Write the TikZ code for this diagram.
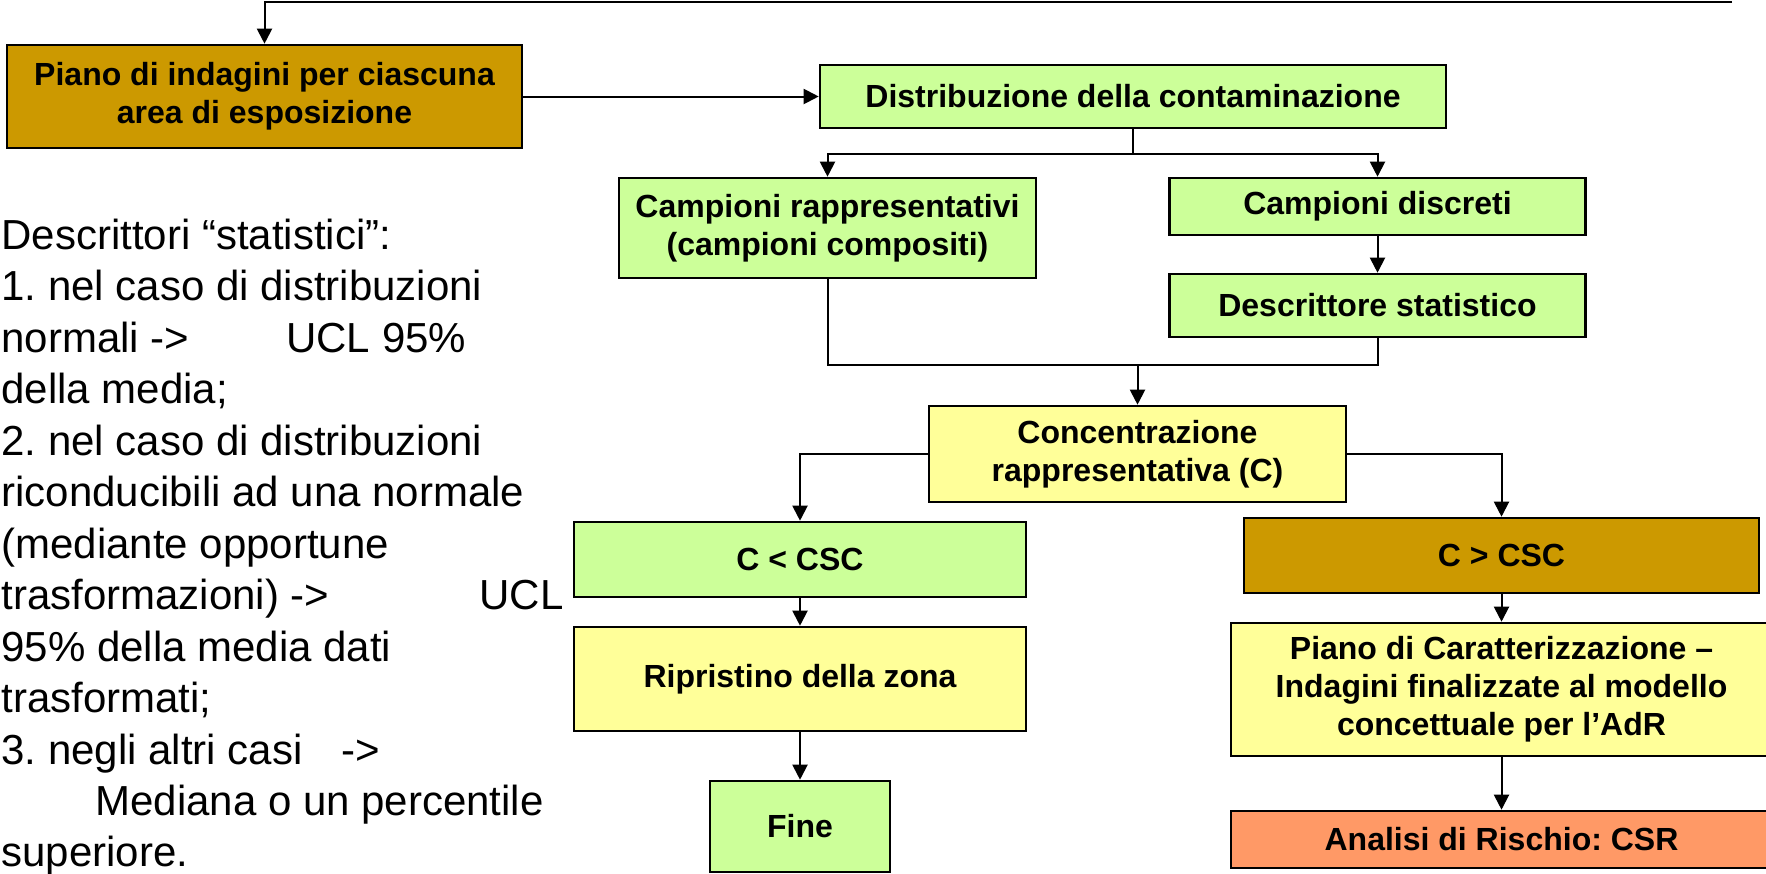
\documentclass[tikz,border=0pt]{standalone}
\usepackage{fontspec}
\setmainfont{Liberation Sans}
\usepackage{tikz}
\usetikzlibrary{arrows.meta}
\definecolor{oro}{RGB}{204,153,0}
\definecolor{verdino}{RGB}{204,255,153}
\definecolor{giallino}{RGB}{255,255,153}
\definecolor{salmone}{RGB}{255,153,102}
\frenchspacing

\begin{document}
\begin{tikzpicture} [x=0.5pt, y=-0.5pt,
	box/.style = {draw, line width=1.3pt, align=center, inner sep=0pt,
		font=\bfseries\fontsize{16}{19}\selectfont},
	boxverde/.style = {box, fill=verdino},
	boxgiallo/.style = {box, fill=giallino},
	boxoro/.style = {box, fill=oro},
	boxrosa/.style = {box, fill=salmone},
	freccia/.style = {line width=1pt, -{Triangle[length=7.5pt, width=7.5pt]}},
	linea/.style = {line width=1pt},
	riga/.style = {anchor=base west, inner sep=0pt, font=\fontsize{21}{25.75}\selectfont}]
	\useasboundingbox (0,0) rectangle (1766,873);
	% descrittori statistici (testo a sinistra)
	\node[riga] (riga1) at (1,249) {Descrittori “statistici”:};
	\node[riga] (riga2) at (1,300.5) {1. nel caso di distribuzioni};
	\node[riga] (riga3) at (1,352) {\makebox[142.5pt][l]{normali ->}UCL 95\%};
	\node[riga] (riga4) at (1,403.5) {della media;};
	\node[riga] (riga5) at (1,455) {2. nel caso di distribuzioni};
	\node[riga] (riga6) at (1,506.5) {riconducibili ad una normale};
	\node[riga] (riga7) at (1,558) {(mediante opportune};
	\node[riga] (riga8) at (1,609.5) {\makebox[239pt][l]{trasformazioni) ->}UCL};
	\node[riga] (riga9) at (1,661) {95\% della media dati};
	\node[riga] (riga10) at (1,712.5) {trasformati;};
	\node[riga] (riga11) at (1,764) {\makebox[170pt][l]{3. negli altri casi}->};
	\node[riga] (riga12) at (1,815.5) {\hspace*{47pt}Mediana o un percentile};
	\node[riga] (riga13) at (1,866) {superiore.};
	% blocchi
	\node[boxoro, minimum width=257.5pt, minimum height=51.5pt] (piano) at (264.5,96.5) {Piano di indagini per ciascuna\\area di esposizione};
	\node[boxverde, minimum width=313pt, minimum height=31.5pt] (distr) at (1133,96.5) {Distribuzione della contaminazione};
	\node[boxverde, minimum width=208.5pt, minimum height=50pt] (rappr) at (827.5,228) {Campioni rappresentativi\\(campioni compositi)};
	\node[boxverde, minimum width=208pt, minimum height=28.5pt] (discr) at (1377.5,206.5) {Campioni discreti};
	\node[boxverde, minimum width=208pt, minimum height=31.5pt] (descr) at (1377.5,305.5) {Descrittore statistico};
	\node[boxgiallo, minimum width=208.5pt, minimum height=48pt] (conc) at (1137.5,454) {Concentrazione\\rappresentativa (C)};
	\node[boxverde, minimum width=226pt, minimum height=37.5pt] (minore) at (800,559.5) {C < CSC};
	\node[boxoro, minimum width=257.5pt, minimum height=37.5pt] (maggiore) at (1501.5,555.5) {C > CSC};
	\node[boxgiallo, minimum width=226pt, minimum height=52pt] (ripr) at (800,679) {Ripristino della zona};
	\node[boxverde, minimum width=90pt, minimum height=45.5pt] (fine) at (800,826.5) {Fine};
	\node[boxgiallo, minimum width=270.5pt, minimum height=66.5pt] (caratt) at (1501.5,689.5) {Piano di Caratterizzazione –\\Indagini finalizzate al modello\\concettuale per l’AdR};
	\node[boxrosa, minimum width=270.5pt, minimum height=28.5pt] (analisi) at (1501.5,839.5) {Analisi di Rischio: CSR};
	% collegamenti
	\coordinate (ritorno) at (1732,2);
	\coordinate (giunto) at (1137.5,365);
	\draw[freccia] (ritorno) -| (piano.north);
	\draw[freccia] (piano) -- (distr);
	\draw[freccia] (distr.south) -- ++(0,25) -| (rappr.north);
	\draw[freccia] (distr.south) -- ++(0,25) -| (discr.north);
	\draw[freccia] (discr) -- (descr);
	\draw[linea] (rappr.south) |- (giunto) -| (descr.south);
	\draw[freccia] (giunto) -- (conc.north);
	\draw[freccia] (conc.west) -| (minore.north);
	\draw[freccia] (conc.east) -| (maggiore.north);
	\draw[freccia] (minore) -- (ripr);
	\draw[freccia] (ripr) -- (fine);
	\draw[freccia] (maggiore) -- (caratt);
	\draw[freccia] (caratt) -- (analisi);
\end{tikzpicture}
\end{document}
